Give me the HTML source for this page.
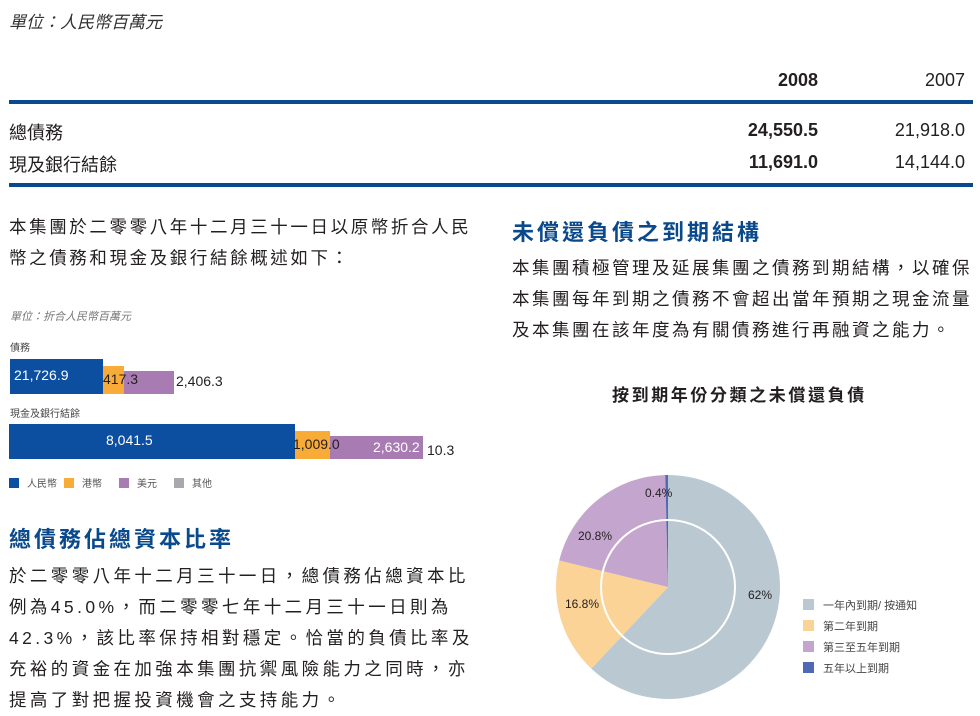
<!DOCTYPE html>
<html><head><meta charset="utf-8"><style>
body{margin:0;width:980px;height:714px;background:#fff;position:relative;overflow:hidden;font-family:"Liberation Sans","Noto Sans CJK TC",sans-serif;color:#231f20}
.a{position:absolute;white-space:nowrap}
.h{color:#0a4a8c;font-weight:bold;font-size:22px;letter-spacing:3px}
.p{font-size:17.5px;line-height:31px;letter-spacing:2.4px}
.r{text-align:right}
.bar{position:absolute}
.sq{position:absolute;width:10px;height:10px}
.lg{font-size:10px;color:#555}
</style></head><body>
<div class="a" style="left:9px;top:8px;font-size:17px;font-style:italic;color:#333">單位：人民幣百萬元</div>
<div class="a r" style="left:700px;width:118px;top:70px;font-size:18px;font-weight:bold">2008</div>
<div class="a r" style="left:860px;width:105px;top:70px;font-size:18px">2007</div>
<div class="bar" style="left:9px;top:100px;width:964px;height:4px;background:#0a4a8c"></div>
<div class="a" style="left:9px;top:119px;font-size:18px">總債務</div>
<div class="a" style="left:9px;top:151px;font-size:18px">現及銀行結餘</div>
<div class="a r" style="left:700px;width:118px;top:120px;font-size:18px;font-weight:bold">24,550.5</div>
<div class="a r" style="left:700px;width:118px;top:152px;font-size:18px;font-weight:bold">11,691.0</div>
<div class="a r" style="left:860px;width:105px;top:120px;font-size:18px">21,918.0</div>
<div class="a r" style="left:860px;width:105px;top:152px;font-size:18px">14,144.0</div>
<div class="bar" style="left:9px;top:183px;width:964px;height:4px;background:#0a4a8c"></div>

<div class="a p" style="left:9px;top:212px;letter-spacing:2.6px">本集團於二零零八年十二月三十一日以原幣折合人民<br>幣之債務和現金及銀行結餘概述如下：</div>
<div class="a" style="left:10px;top:308px;font-size:11px;font-style:italic;color:#777">單位：折合人民幣百萬元</div>
<div class="a" style="left:10px;top:339px;font-size:10px;color:#444">債務</div>
<div class="bar" style="left:10px;top:359px;width:93px;height:35px;background:#0c4ea0"></div>
<div class="bar" style="left:103px;top:366px;width:21px;height:28px;background:#f9ab38"></div>
<div class="bar" style="left:124px;top:371px;width:50px;height:23px;background:#a87bb3"></div>
<div class="a" style="left:14px;top:367px;font-size:14px;color:#fff">21,726.9</div>
<div class="a" style="left:103px;top:371px;font-size:14px">417.3</div>
<div class="a" style="left:176px;top:373px;font-size:14px">2,406.3</div>
<div class="a" style="left:10px;top:405px;font-size:10px;color:#444">現金及銀行結餘</div>
<div class="bar" style="left:9px;top:424px;width:286px;height:35px;background:#0c4ea0"></div>
<div class="bar" style="left:295px;top:431px;width:35px;height:28px;background:#f9ab38"></div>
<div class="bar" style="left:330px;top:436px;width:93px;height:23px;background:#a87bb3"></div>
<div class="a" style="left:106px;top:432px;font-size:14px;color:#fff">8,041.5</div>
<div class="a" style="left:293px;top:436px;font-size:14px">1,009.0</div>
<div class="a" style="left:373px;top:439px;font-size:14px;color:#fff">2,630.2</div>
<div class="a" style="left:427px;top:442px;font-size:14px">10.3</div>
<div class="sq" style="left:9px;top:478px;background:#0c4ea0"></div><div class="a lg" style="left:27px;top:475px">人民幣</div>
<div class="sq" style="left:64px;top:478px;background:#f9ab38"></div><div class="a lg" style="left:82px;top:475px">港幣</div>
<div class="sq" style="left:119px;top:478px;background:#a87bb3"></div><div class="a lg" style="left:137px;top:475px">美元</div>
<div class="sq" style="left:174px;top:478px;background:#a7a9ac"></div><div class="a lg" style="left:192px;top:475px">其他</div>

<div class="a h" style="left:9px;top:522px">總債務佔總資本比率</div>
<div class="a p" style="left:9px;top:561px;letter-spacing:3.4px">於二零零八年十二月三十一日，總債務佔總資本比<br>例為45.0%，而二零零七年十二月三十一日則為<br>42.3%，該比率保持相對穩定。恰當的負債比率及<br>充裕的資金在加強本集團抗禦風險能力之同時，亦<br>提高了對把握投資機會之支持能力。</div>

<div class="a h" style="left:512px;top:215px">未償還負債之到期結構</div>
<div class="a p" style="left:512px;top:253px;letter-spacing:2.5px">本集團積極管理及延展集團之債務到期結構，以確保<br>本集團每年到期之債務不會超出當年預期之現金流量<br>及本集團在該年度為有關債務進行再融資之能力。</div>
<div class="a" style="left:612px;top:381px;font-size:17px;font-weight:bold;letter-spacing:2.6px">按到期年份分類之未償還負債</div>

<svg class="a" style="left:0;top:0" width="980" height="714">
<path d="M668,587 L668,475 A112,112 0 1,1 591.3,668.6 Z" fill="#bac9d1"/>
<path d="M668,587 L591.3,668.6 A112,112 0 0,1 559.2,560.5 Z" fill="#fcd397"/>
<path d="M668,587 L559.2,560.5 A112,112 0 0,1 665.3,475 Z" fill="#c4a5cd"/>
<path d="M668,587 L665.3,475 A112,112 0 0,1 668,475 Z" fill="#5069b5"/>
<circle cx="668" cy="587" r="67" fill="none" stroke="#fff" stroke-width="2"/>
<g font-size="12" fill="#231f20" font-family="Liberation Sans,sans-serif">
<text x="645" y="497">0.4%</text>
<text x="578" y="540">20.8%</text>
<text x="565" y="608">16.8%</text>
<text x="748" y="599">62%</text>
</g>
<rect x="803" y="599" width="11" height="11" fill="#bac9d1"/>
<rect x="803" y="620" width="11" height="11" fill="#fcd397"/>
<rect x="803" y="641" width="11" height="11" fill="#c4a5cd"/>
<rect x="803" y="662" width="11" height="11" fill="#5069b5"/>
<g font-size="11" fill="#444" font-family="Liberation Sans,Noto Sans CJK TC,sans-serif">
<text x="823" y="609">一年內到期/ 按通知</text>
<text x="823" y="630">第二年到期</text>
<text x="823" y="651">第三至五年到期</text>
<text x="823" y="672">五年以上到期</text>
</g>
</svg>
</body></html>
